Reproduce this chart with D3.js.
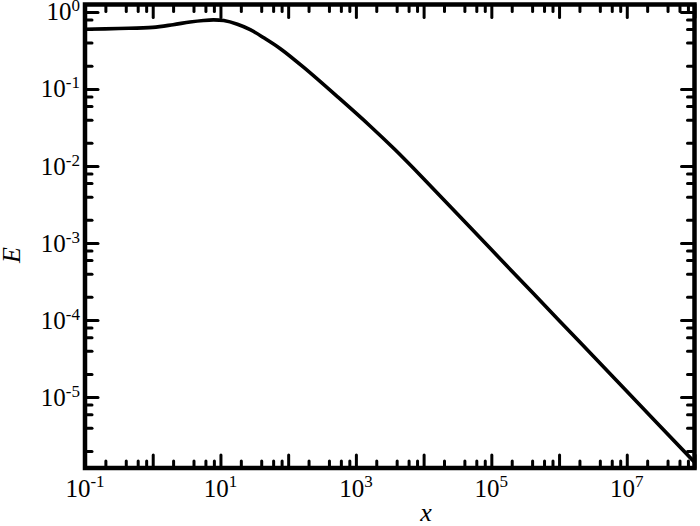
<!DOCTYPE html>
<html>
<head>
<meta charset="utf-8">
<script src="https://cdn.jsdelivr.net/npm/d3@7"></script>
<style>
  body { margin: 0; background: #fff; }
  svg text { font-family: "Liberation Serif", "Times New Roman", Times, serif; fill: #000; }
</style>
</head>
<body>
<div id="chart"></div>
<script>
// curve (x, E)
const xValues = [0.1, 0.316, 1, 1.995, 3.55, 5.62, 7.94, 11.2, 17.8, 27.5, 43.7, 77.6, 170, 550, 1620, 3800, 1e4, 1e5, 1e6, 1e7, 1e8];
const eValues = [0.596, 0.61, 0.631, 0.684, 0.741, 0.776, 0.789, 0.773, 0.692, 0.589, 0.462, 0.331, 0.1905, 0.0776, 0.0331, 0.01622, 0.00684, 8.22e-4, 9.89e-5, 1.19e-5, 1.43e-6];

const xMajorTicks = [0.1, 1, 10, 1e2, 1e3, 1e4, 1e5, 1e6, 1e7, 1e8];
const xLabelTicks = [0.1, 10, 1e3, 1e5, 1e7];
const xLabelExps = ["-1", "1", "3", "5", "7"];
const yMajorTicks = [1, 0.1, 0.01, 1e-3, 1e-4, 1e-5];
const yLabelExps = ["0", "-1", "-2", "-3", "-4", "-5"];
const minorMultipliers = [2, 4, 6, 8];

const width = 700, height = 526;
const plotLeft = 85, plotRight = 694.5, plotTop = 4.5, plotBottom = 468;

const svg = d3.select("#chart")
    .append("svg")
    .attr("width", width)
    .attr("height", height);

const x = d3.scaleLog().domain([0.1, 1e8]).range([plotLeft, plotRight]);
const y = d3.scaleLog().domain([1.2e-6, 1.25]).range([plotBottom, plotTop]);

// minor ticks at 2,4,6,8 of every decade
function minors(majors, scale) {
    const [a, b] = scale.domain();
    const lo = Math.min(a, b), hi = Math.max(a, b);
    const out = [];
    const decades = majors.concat([d3.min(majors) / 10]);
    decades.forEach(d => minorMultipliers.forEach(m => {
        const v = d * m;
        if (v > lo && v < hi) out.push(v);
    }));
    return out;
}
const xMinor = minors(xMajorTicks, x);
const yMinor = minors(yMajorTicks, y);

function drawAxis(axisFn, scale, ticks, size, tx, ty) {
    const g = svg.append("g")
        .attr("transform", `translate(${tx},${ty})`)
        .call(axisFn(scale).tickValues(ticks).tickSize(-size).tickFormat(""));
    g.select(".domain").remove();
    g.selectAll(".tick line")
        .attr("stroke", "#000")
        .attr("stroke-width", 3)
        .attr("stroke-linecap", "round");
}

drawAxis(d3.axisBottom, x, xMajorTicks, 13, 0, plotBottom);
drawAxis(d3.axisBottom, x, xMinor, 7, 0, plotBottom);
drawAxis(d3.axisTop, x, xMajorTicks, 13, 0, plotTop);
drawAxis(d3.axisTop, x, xMinor, 7, 0, plotTop);
drawAxis(d3.axisLeft, y, yMajorTicks, 13, plotLeft, 0);
drawAxis(d3.axisLeft, y, yMinor, 7, plotLeft, 0);
drawAxis(d3.axisRight, y, yMajorTicks, 13, plotRight, 0);
drawAxis(d3.axisRight, y, yMinor, 7, plotRight, 0);

// curve
svg.append("clipPath").attr("id", "plotclip")
    .append("rect")
    .attr("x", plotLeft).attr("y", plotTop)
    .attr("width", plotRight - plotLeft).attr("height", plotBottom - plotTop);

const line = d3.line()
    .x((d, i) => x(xValues[i]))
    .y(d => y(d))
    .curve(d3.curveCatmullRom.alpha(0.5));

svg.append("path")
    .datum(eValues)
    .attr("clip-path", "url(#plotclip)")
    .attr("fill", "none")
    .attr("stroke", "#000")
    .attr("stroke-width", 3.6)
    .attr("d", line);

// frame
svg.append("rect")
    .attr("x", plotLeft).attr("y", plotTop)
    .attr("width", plotRight - plotLeft).attr("height", plotBottom - plotTop)
    .attr("fill", "none")
    .attr("stroke", "#000")
    .attr("stroke-width", 4.5);

// tick labels
const xl = svg.selectAll(".xlab")
    .data(xLabelTicks)
    .enter()
    .append("text")
    .attr("class", "xlab")
    .attr("x", d => x(d))
    .attr("y", 497)
    .attr("text-anchor", "middle")
    .attr("font-size", 25);
xl.append("tspan").text("10");
xl.append("tspan").attr("dy", -10).attr("font-size", 17).text((d, i) => xLabelExps[i]);

const yl = svg.selectAll(".ylab")
    .data(yMajorTicks)
    .enter()
    .append("text")
    .attr("class", "ylab")
    .attr("x", 80)
    .attr("y", d => y(d) + 8.5)
    .attr("text-anchor", "end")
    .attr("font-size", 25);
yl.append("tspan").text("10");
yl.append("tspan").attr("dy", -9).attr("font-size", 17).text((d, i) => yLabelExps[i]);

// axis titles
svg.append("text")
    .attr("x", 426)
    .attr("y", 521)
    .attr("text-anchor", "middle")
    .attr("font-size", 26)
    .attr("font-style", "italic")
    .text("x");

svg.append("text")
    .attr("transform", "translate(20,255) rotate(-90)")
    .attr("text-anchor", "middle")
    .attr("font-size", 26)
    .attr("font-style", "italic")
    .text("E");
</script>
</body>
</html>
